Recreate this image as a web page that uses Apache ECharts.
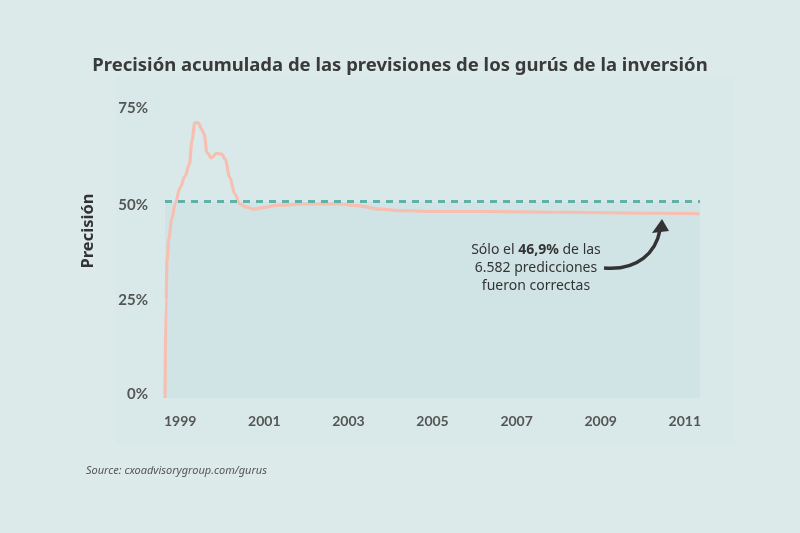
<!DOCTYPE html>
<html>
<head>
<meta charset="utf-8">
<script src="https://cdn.jsdelivr.net/npm/echarts@6/dist/echarts.min.js"></script>
<style>
html,body{margin:0;padding:0;background:#dcebea;}
#c{width:800px;height:533px;}
</style>
</head>
<body>
<div id="c"></div>
<script>
// Data (year, cumulative accuracy %)
const years = [1998.64, 1998.665, 1998.69, 1998.73, 1998.80, 1998.88, 1999.00, 1999.12, 1999.22, 1999.28, 1999.35, 1999.43, 1999.51, 1999.57, 1999.64, 1999.74, 1999.87, 1999.99, 2000.07, 2000.18, 2000.30, 2000.42, 2000.58, 2000.74, 2001.06, 2001.21, 2001.37, 2002.01, 2002.80, 2003.20, 2003.75, 2004.22, 2005.17, 2006.13, 2007.08, 2008.03, 2008.98, 2009.93, 2010.88, 2011.35];
const accuracy = [0, 25, 35, 40.5, 45.5, 49.4, 53.6, 56.6, 59.5, 65.5, 70.1, 70.1, 68.5, 67.2, 62.5, 61.2, 62.3, 62.1, 60.8, 56.2, 52.0, 49.4, 48.6, 48.1, 48.6, 49.0, 49.1, 49.4, 49.4, 49.0, 48.1, 47.7, 47.5, 47.5, 47.4, 47.3, 47.2, 47.1, 47.0, 46.9];
const xTicks = [1999, 2001, 2003, 2005, 2007, 2009, 2011];
const benchmark = 50;
const xMin = 1998.64, xMax = 2011.36;

const chart = echarts.init(document.getElementById('c'), null, {renderer: 'canvas'});
const lineData = years.map((y, i) => [y, accuracy[i]]);

const yLabelStyle = {fontFamily: 'Lato', fontWeight: 'bold', fontSize: 15, color: '#555'};

chart.setOption({
  backgroundColor: '#dcebea',
  animation: false,
  title: {
    text: 'Precisión acumulada de las previsiones de los gurús de la inversión',
    left: 'center',
    top: 51,
    textStyle: {fontFamily: 'Noto Sans', fontWeight: 'bold', fontSize: 18.5, color: '#3a3a3a'}
  },
  grid: {left: 165, right: 100, top: 103.5, bottom: 135},
  xAxis: {
    type: 'value', min: xMin, max: xMax,
    axisLine: {show: false}, axisTick: {show: false}, splitLine: {show: false},
    axisLabel: {
      customValues: xTicks,
      formatter: v => String(Math.round(v)),
      margin: 16,
      fontFamily: 'Lato', fontWeight: 'bold', fontSize: 14, color: '#555'
    }
  },
  yAxis: {
    type: 'value', min: 0, max: 75, interval: 25,
    axisLine: {show: false}, axisTick: {show: false}, splitLine: {show: false},
    axisLabel: {
      margin: 17,
      formatter: v => {
        const k = {0: 'd', 25: 'c', 50: 'b', 75: 'a'}[v];
        return '{' + k + '|' + v + '%}';
      },
      rich: {
        a: Object.assign({padding: [10, 0, 0, 0]}, yLabelStyle),
        b: Object.assign({padding: [6, 0, 0, 0]}, yLabelStyle),
        c: Object.assign({padding: [0, 0, 0, 0]}, yLabelStyle),
        d: Object.assign({padding: [0, 0, 8, 0]}, yLabelStyle)
      }
    }
  },
  graphic: [
    {type: 'rect', z: -10, shape: {x: 116, y: 77, width: 619, height: 368}, style: {fill: '#d9e9e9'}},
    {type: 'text', x: 88, y: 231, rotation: Math.PI / 2, style: {text: 'Precisión', fontFamily: 'Noto Sans', fontWeight: 'bold', fontSize: 16.5, fill: '#333', align: 'center', verticalAlign: 'middle'}},
    {type: 'text', x: 536, y: 268, z: 100, style: {
      text: 'Sólo el {b|46,9%} de las\n6.582 predicciones\nfueron correctas',
      rich: {b: {fontFamily: 'Noto Sans', fontWeight: 'bold', fontSize: 14, fill: '#333'}},
      fontFamily: 'Noto Sans', fontSize: 14, fill: '#333', align: 'center', verticalAlign: 'middle', lineHeight: 18}},
    {type: 'bezierCurve', z: 100, shape: {x1: 604, y1: 268, cpx1: 638, cpy1: 271, cpx2: 656, cpy2: 252, x2: 660, y2: 230}, style: {stroke: '#333', lineWidth: 3.5, fill: null}},
    {type: 'polygon', z: 100, shape: {points: [[662, 219], [652, 233], [669, 231]]}, style: {fill: '#333'}},
    {type: 'text', left: 86, top: 465, style: {text: 'Source: cxoadvisorygroup.com/gurus', fontFamily: 'Noto Sans', fontStyle: 'italic', fontSize: 11, fill: '#555'}}
  ],
  series: [{
    type: 'line',
    data: lineData,
    showSymbol: false,
    smooth: 0.35,
    smoothMonotone: 'x',
    lineStyle: {color: '#f6bfb1', width: 3.2},
    z: 3,
    markArea: {
      silent: true,
      itemStyle: {color: '#d1e4e5'},
      data: [[{coord: [xMin, 0]}, {coord: [xMax, benchmark]}]]
    },
    markLine: {
      silent: true, symbol: 'none', label: {show: false},
      lineStyle: {color: '#5fb1a9', width: 3, type: [7, 6]},
      data: [{yAxis: benchmark}]
    }
  }]
});
</script>
</body>
</html>
